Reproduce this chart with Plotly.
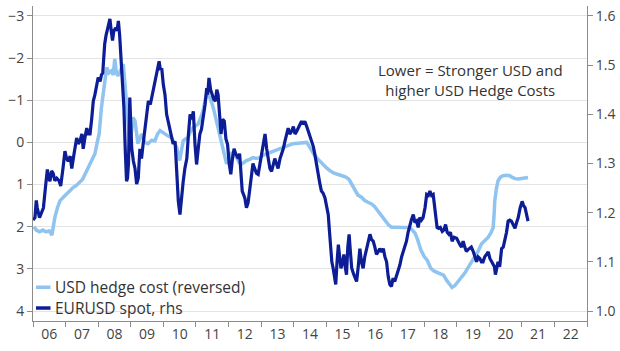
import plotly.graph_objects as go

# ---- data (fractional years) ----
hedge_x = [2006.03,2006.1,2006.2,2006.3,2006.4,2006.5,2006.58,2006.67,2006.75,2006.83,2006.93,
 2007.03,2007.13,2007.23,2007.33,2007.44,2007.52,2007.6,2007.68,2007.75,2007.83,2007.9,2007.97,
 2008.03,2008.1,2008.15,2008.18,2008.26,2008.33,2008.41,2008.46,2008.51,2008.56,2008.6,2008.68,2008.77,2008.82,2008.87,2008.92,2008.97,
 2009.03,2009.07,2009.13,2009.22,2009.33,2009.43,2009.53,2009.64,2009.74,2009.82,2009.9,
 2010.0,2010.05,2010.15,2010.25,2010.35,2010.41,2010.5,2010.55,2010.61,2010.68,2010.75,2010.83,2010.91,
 2011.0,2011.07,2011.15,2011.22,2011.28,2011.33,2011.38,2011.43,2011.53,2011.6,2011.69,2011.76,2011.83,2011.9,2011.94,
 2012.0,2012.09,2012.17,2012.25,2012.33,2012.4,2012.48,2012.55,2012.65,2012.75,2012.85,2012.96,
 2013.07,2013.17,2013.27,2013.37,2013.5,2013.67,2013.82,2013.98,
 2014.14,2014.29,2014.4,2014.48,2014.55,2014.62,2014.7,2014.8,2014.9,
 2015.0,2015.11,2015.21,2015.32,2015.42,2015.51,2015.6,2015.7,2015.78,2015.88,2015.97,
 2016.08,2016.18,2016.28,2016.39,2016.48,2016.58,2016.7,2016.8,2016.9,
 2017.0,2017.1,2017.2,2017.35,2017.5,2017.56,2017.64,2017.72,2017.8,2017.9,
 2018.0,2018.1,2018.2,2018.3,2018.45,2018.6,2018.7,2018.8,2018.86,2018.94,
 2019.05,2019.15,2019.25,2019.35,2019.45,2019.56,2019.66,2019.76,2019.87,2019.97,
 2020.05,2020.12,2020.15,2020.17,2020.22,2020.27,2020.35,2020.43,2020.53,2020.63,2020.71,2020.79,2020.89,2020.99,
 2021.09,2021.19]
hedge_y = [2.00,2.08,2.12,2.08,2.12,2.10,2.20,1.78,1.55,1.38,1.30,
 1.22,1.15,1.07,1.02,0.95,0.88,0.75,0.62,0.51,0.42,0.27,0.0,
 -0.2,-0.83,-1.1,-1.22,-1.78,-1.65,-1.70,-1.6,-1.98,-1.65,-1.58,-1.7,-1.86,-1.4,-0.99,-0.5,0.03,
 -0.3,-0.59,-0.51,0.03,-0.2,0.0,0.03,-0.05,-0.04,-0.2,-0.28,
 -0.22,-0.2,-0.15,-0.11,0.05,0.12,0.43,0.2,-0.04,-0.08,-0.11,-0.25,-0.35,
 -0.4,-0.44,-0.6,-0.75,-1.0,-1.15,-1.1,-1.06,-0.83,-0.6,-0.35,-0.1,0.12,0.35,0.51,
 0.4,0.27,0.32,0.36,0.48,0.51,0.47,0.43,0.40,0.36,0.38,0.36,
 0.3,0.27,0.24,0.2,0.16,0.12,0.07,0.03,
 0.02,0.0,0.0,0.1,0.2,0.28,0.36,0.45,0.51,
 0.6,0.67,0.72,0.75,0.78,0.79,0.82,0.88,1.0,1.15,1.25,
 1.3,1.38,1.42,1.46,1.52,1.62,1.75,1.86,1.95,
 2.01,2.0,2.01,2.02,2.01,2.02,2.08,2.15,2.3,2.55,
 2.7,2.8,2.98,3.05,3.1,3.15,3.28,3.38,3.44,3.4,
 3.3,3.2,3.1,2.97,2.85,2.73,2.58,2.41,2.33,2.25,
 2.15,2.02,1.7,1.38,1.1,0.91,0.82,0.79,0.78,0.79,0.83,0.86,0.87,0.86,
 0.85,0.83]

eur_x = [2006.0,2006.06,2006.1,2006.13,2006.2,2006.26,2006.32,2006.38,2006.44,2006.48,2006.52,2006.57,2006.62,2006.67,2006.73,2006.8,2006.85,2006.92,2006.98,
 2007.03,2007.08,2007.14,2007.19,2007.26,2007.34,2007.39,2007.44,2007.5,2007.54,2007.6,2007.65,2007.7,2007.75,2007.8,2007.85,2007.9,2007.95,
 2008.0,2008.06,2008.1,2008.14,2008.17,2008.2,2008.24,2008.28,2008.32,2008.36,2008.4,2008.44,2008.48,2008.54,2008.58,2008.62,2008.66,2008.69,2008.74,2008.79,2008.83,2008.87,2008.9,2008.93,2008.97,
 2009.0,2009.03,2009.08,2009.13,2009.18,2009.23,2009.28,2009.33,2009.38,2009.44,2009.49,2009.54,2009.6,2009.64,2009.7,2009.74,2009.8,2009.87,2009.91,2009.95,
 2010.0,2010.05,2010.1,2010.15,2010.2,2010.25,2010.3,2010.36,2010.41,2010.46,2010.51,2010.56,2010.61,2010.66,2010.72,2010.77,2010.82,2010.87,2010.92,2010.97,
 2011.02,2011.07,2011.12,2011.17,2011.22,2011.28,2011.33,2011.36,2011.4,2011.45,2011.5,2011.55,2011.6,2011.64,2011.68,2011.72,2011.77,2011.82,2011.87,2011.92,2011.97,
 2012.02,2012.07,2012.12,2012.17,2012.22,2012.3,2012.34,2012.38,2012.42,2012.5,2012.55,2012.6,2012.65,2012.7,2012.75,2012.8,2012.86,2012.91,2012.96,
 2013.01,2013.07,2013.12,2013.17,2013.22,2013.27,2013.32,2013.37,2013.42,2013.47,2013.52,2013.58,2013.63,2013.68,2013.73,2013.78,2013.83,2013.88,2013.94,2013.99,
 2014.04,2014.09,2014.14,2014.19,2014.24,2014.29,2014.34,2014.4,2014.45,2014.5,2014.55,2014.6,2014.65,2014.7,2014.75,2014.8,2014.85,2014.9,2014.96,
 2015.01,2015.06,2015.1,2015.13,2015.17,2015.21,2015.25,2015.29,2015.33,2015.37,2015.41,2015.45,2015.5,2015.54,2015.58,2015.62,2015.66,2015.7,2015.74,2015.78,2015.84,2015.9,2015.93,2015.98,
 2016.03,2016.08,2016.13,2016.18,2016.24,2016.29,2016.34,2016.39,2016.44,2016.49,2016.54,2016.59,2016.64,2016.7,2016.75,2016.8,2016.85,2016.9,2016.95,
 2017.0,2017.05,2017.1,2017.16,2017.21,2017.26,2017.31,2017.36,2017.41,2017.46,2017.51,2017.56,2017.61,2017.67,2017.72,2017.77,2017.82,2017.87,2017.92,2017.97,
 2018.03,2018.08,2018.13,2018.18,2018.23,2018.28,2018.32,2018.35,2018.4,2018.45,2018.5,2018.56,2018.61,2018.66,2018.71,2018.76,2018.81,2018.86,2018.92,
 2019.0,2019.05,2019.1,2019.15,2019.2,2019.25,2019.3,2019.35,2019.4,2019.45,2019.51,2019.56,2019.61,2019.66,2019.71,2019.76,2019.81,2019.86,2019.92,2019.97,
 2020.02,2020.07,2020.12,2020.16,2020.19,2020.23,2020.27,2020.32,2020.38,2020.43,2020.48,2020.53,2020.58,2020.63,2020.68,2020.74,2020.79,2020.84,2020.89,2020.95,
 2021.01,2021.05,2021.1,2021.15,2021.19]
eur_y = [1.185,1.19,1.225,1.21,1.19,1.2,1.21,1.25,1.288,1.27,1.264,1.285,1.28,1.265,1.27,1.265,1.254,1.29,1.325,
 1.31,1.305,1.315,1.29,1.32,1.352,1.34,1.345,1.36,1.33,1.355,1.372,1.36,1.36,1.39,1.427,1.44,1.46,
 1.475,1.467,1.48,1.484,1.52,1.543,1.56,1.57,1.58,1.594,1.57,1.55,1.57,1.576,1.57,1.59,1.56,1.529,1.47,1.413,1.33,1.264,1.27,1.3,1.434,
 1.39,1.33,1.305,1.29,1.258,1.27,1.33,1.31,1.34,1.372,1.4,1.427,1.42,1.433,1.45,1.467,1.48,1.508,1.49,1.494,
 1.46,1.44,1.4,1.386,1.37,1.36,1.34,1.345,1.28,1.223,1.196,1.24,1.264,1.29,1.31,1.36,1.4,1.39,1.406,1.34,
 1.298,1.33,1.36,1.37,1.392,1.42,1.453,1.44,1.474,1.45,1.44,1.43,1.427,1.45,1.44,1.4,1.36,1.39,1.386,1.35,1.339,
 1.3,1.278,1.31,1.33,1.32,1.31,1.32,1.28,1.244,1.23,1.21,1.22,1.25,1.27,1.3,1.29,1.28,1.278,1.3,
 1.318,1.34,1.36,1.33,1.31,1.29,1.284,1.3,1.31,1.3,1.29,1.31,1.318,1.33,1.345,1.36,1.372,1.36,1.366,1.375,
 1.36,1.365,1.372,1.38,1.386,1.38,1.386,1.375,1.366,1.355,1.345,1.335,1.318,1.295,1.278,1.26,1.244,1.24,1.23,
 1.21,1.196,1.16,1.127,1.1,1.087,1.065,1.054,1.1,1.135,1.11,1.087,1.1,1.115,1.09,1.074,1.13,1.156,1.12,1.087,1.075,1.065,1.06,1.09,
 1.127,1.1,1.087,1.11,1.127,1.14,1.156,1.145,1.142,1.13,1.115,1.12,1.127,1.12,1.127,1.11,1.1,1.07,1.054,
 1.05,1.067,1.06,1.074,1.08,1.094,1.11,1.121,1.13,1.142,1.16,1.176,1.185,1.196,1.18,1.183,1.17,1.19,1.185,1.19,
 1.21,1.237,1.235,1.244,1.235,1.237,1.21,1.19,1.17,1.168,1.17,1.162,1.165,1.176,1.16,1.156,1.16,1.142,1.15,
 1.148,1.14,1.135,1.13,1.142,1.13,1.121,1.125,1.127,1.13,1.121,1.11,1.1,1.11,1.107,1.1,1.1,1.11,1.115,1.12,
 1.107,1.1,1.094,1.09,1.074,1.09,1.1,1.09,1.127,1.13,1.142,1.16,1.183,1.185,1.183,1.175,1.168,1.18,1.19,1.21,
 1.223,1.215,1.21,1.195,1.183]

years = list(range(2006, 2024))
year_labels = ["06","07","08","09","10","11","12","13","14","15","16","17","18","19","20","21","22"]
left_ticks = [-3, -2, -1, 0, 1, 2, 3, 4]
right_ticks = [1.0, 1.1, 1.2, 1.3, 1.4, 1.5, 1.6]

LIGHT = "#8fc3f0"
DARK = "#0c1d96"
FONT = "Open Sans"
TXT = "#444444"
AX = "#8c8c8c"

fig = go.Figure()
fig.add_trace(go.Scatter(x=eur_x, y=eur_y, yaxis="y2", mode="lines",
                         line=dict(color=DARK, width=3.2), name="EURUSD spot, rhs",
                         showlegend=False))
fig.add_trace(go.Scatter(x=hedge_x, y=hedge_y, yaxis="y", mode="lines",
                         line=dict(color=LIGHT, width=3.5), name="USD hedge cost (reversed)",
                         showlegend=False))

# custom legend (short swatches)
top, bot = 6, 321.5
leg = [("USD hedge cost (reversed)", LIGHT, 287.7), ("EURUSD spot, rhs", DARK, 308.5)]
for text, col, ypx in leg:
    yp = 1 - (ypx - top) / (bot - top)
    fig.add_shape(type="line", xref="paper", yref="paper", x0=(36-33)/554, x1=(50.5-33)/554,
                  y0=yp, y1=yp, line=dict(color=col, width=3.5))
    fig.add_annotation(xref="paper", yref="paper", x=(52.5-33)/554, y=yp, text=text,
                       showarrow=False, xanchor="left", yanchor="middle",
                       font=dict(family=FONT, size=15.5, color="#333333"))

fig.add_annotation(xref="paper", yref="paper", x=(470-33)/554, y=1-(80.5-top)/(bot-top),
                   text="Lower = Stronger USD and<br>higher USD Hedge Costs",
                   showarrow=False, xanchor="center", yanchor="middle", align="center",
                   font=dict(family=FONT, size=15, color="#333333"))

fig.update_layout(
    width=620, height=351,
    margin=dict(l=33, r=33, t=6, b=29.5),
    paper_bgcolor="white", plot_bgcolor="white",
    font=dict(family=FONT, size=14, color=TXT),
    showlegend=False,
    xaxis=dict(range=[2006, 2023], tickmode="array",
               tickvals=[y + 0.5 for y in years[:-1]], ticktext=year_labels,
               ticks="", showgrid=False, zeroline=False,
               showline=True, linecolor=AX, linewidth=1,
               tickfont=dict(family=FONT, size=14, color=TXT),
               minor=dict(tickmode="array", tickvals=years, ticks="outside",
                          ticklen=5, tickcolor=AX, tickwidth=1, showgrid=False)),
    yaxis=dict(range=[4.237, -3.237], tickmode="array", tickvals=left_ticks,
               ticks="outside", ticklen=5, tickcolor=AX,
               showgrid=True, gridcolor="#e3e3e3", gridwidth=1, zeroline=False,
               showline=True, linecolor=AX, linewidth=1,
               tickfont=dict(family=FONT, size=14, color=TXT)),
    yaxis2=dict(range=[0.9797, 1.6203], overlaying="y", side="right",
                tickmode="array", tickvals=right_ticks, ticktext=["1.0","1.1","1.2","1.3","1.4","1.5","1.6"],
                ticks="outside", ticklen=5, tickcolor=AX,
                showgrid=False, zeroline=False,
                showline=True, linecolor=AX, linewidth=1,
                tickfont=dict(family=FONT, size=14, color=TXT)),
)

fig.write_html("out.html")
